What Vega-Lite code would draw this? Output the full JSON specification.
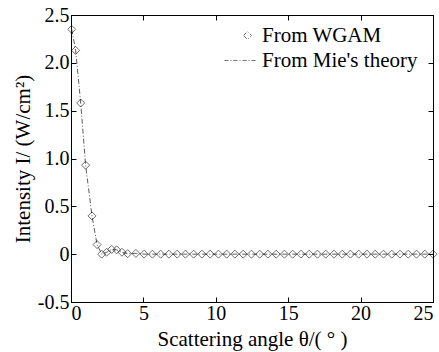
{
  "$schema": "https://vega.github.io/schema/vega-lite/v6.json",
  "width": 362,
  "height": 287,
  "autosize": {"type": "none"},
  "padding": {"left": 71, "top": 15, "right": 6, "bottom": 50},
  "background": "white",
  "config": {
    "font": "Liberation Serif",
    "view": {"stroke": "black", "strokeWidth": 1},
    "axis": {
      "labelFont": "Liberation Serif",
      "titleFont": "Liberation Serif",
      "labelFontSize": 20,
      "titleFontSize": 21,
      "titleFontWeight": "normal",
      "labelColor": "black",
      "titleColor": "black",
      "domainColor": "black",
      "tickColor": "black",
      "grid": false,
      "tickSize": -5,
      "labelPadding": 7
    }
  },
  "data": {
    "values": [
      {"theta": 0.05, "I": 2.35},
      {"theta": 0.32, "I": 2.13},
      {"theta": 0.67, "I": 1.58},
      {"theta": 1.01, "I": 0.93},
      {"theta": 1.45, "I": 0.4},
      {"theta": 1.8, "I": 0.1},
      {"theta": 2.12, "I": 0.0},
      {"theta": 2.46, "I": 0.02},
      {"theta": 2.81, "I": 0.05},
      {"theta": 3.15, "I": 0.045},
      {"theta": 3.52, "I": 0.02},
      {"theta": 3.91, "I": 0.005},
      {"theta": 4.48, "I": 0.008},
      {"theta": 5.05, "I": 0.0},
      {"theta": 5.62, "I": 0.0},
      {"theta": 6.19, "I": 0.0},
      {"theta": 6.76, "I": 0.0},
      {"theta": 7.33, "I": 0.0},
      {"theta": 7.9, "I": 0.0},
      {"theta": 8.47, "I": 0.0},
      {"theta": 9.04, "I": 0.0},
      {"theta": 9.61, "I": 0.0},
      {"theta": 10.18, "I": 0.0},
      {"theta": 10.75, "I": 0.0},
      {"theta": 11.32, "I": 0.0},
      {"theta": 11.89, "I": 0.0},
      {"theta": 12.46, "I": 0.0},
      {"theta": 13.03, "I": 0.0},
      {"theta": 13.6, "I": 0.0},
      {"theta": 14.17, "I": 0.0},
      {"theta": 14.74, "I": 0.0},
      {"theta": 15.31, "I": 0.0},
      {"theta": 15.88, "I": 0.0},
      {"theta": 16.45, "I": 0.0},
      {"theta": 17.02, "I": 0.0},
      {"theta": 17.59, "I": 0.0},
      {"theta": 18.16, "I": 0.0},
      {"theta": 18.73, "I": 0.0},
      {"theta": 19.3, "I": 0.0},
      {"theta": 19.87, "I": 0.0},
      {"theta": 20.44, "I": 0.0},
      {"theta": 21.01, "I": 0.0},
      {"theta": 21.58, "I": 0.0},
      {"theta": 22.15, "I": 0.0},
      {"theta": 22.72, "I": 0.0},
      {"theta": 23.29, "I": 0.0},
      {"theta": 23.86, "I": 0.0},
      {"theta": 24.43, "I": 0.0},
      {"theta": 25.0, "I": 0.0}
    ]
  },
  "layer": [
    {
      "mark": {"type": "line", "stroke": "#333333", "strokeWidth": 0.8, "strokeDash": [5, 2, 1, 2]},
      "encoding": {
        "x": {
          "field": "theta", "type": "quantitative",
          "scale": {"domain": [0, 25], "nice": false},
          "axis": {
            "orient": "bottom", "values": [0, 5, 10, 15, 20, 25],
            "title": "Scattering angle θ/( ° )", "titlePadding": 5, "labelPadding": 6
          }
        },
        "y": {
          "field": "I", "type": "quantitative",
          "scale": {"domain": [-0.5, 2.5], "nice": false, "zero": false},
          "axis": {
            "orient": "left",
            "values": [-0.5, 0, 0.5, 1, 1.5, 2, 2.5],
            "labelExpr": "datum.value === 0 ? '0' : (datum.value < 0 ? '-' + format(-datum.value, '.1f') : format(datum.value, '.1f'))",
            "title": "Intensity I/ (W/cm²)",
            "titlePadding": 4
          }
        }
      }
    },
    {
      "mark": {"type": "point", "filled": false, "stroke": "black", "strokeWidth": 0.8, "size": 64},
      "encoding": {
        "x": {
          "field": "theta", "type": "quantitative",
          "scale": {"domain": [0, 25], "nice": false},
          "axis": {"orient": "top", "values": [0, 5, 10, 15, 20, 25], "labels": false, "title": null}
        },
        "y": {
          "field": "I", "type": "quantitative",
          "scale": {"domain": [-0.5, 2.5], "nice": false, "zero": false},
          "axis": {"orient": "right", "values": [-0.5, 0, 0.5, 1, 1.5, 2, 2.5], "labels": false, "title": null}
        },
        "shape": {
          "datum": "From WGAM",
          "type": "nominal",
          "scale": {"domain": ["From WGAM", "From Mie's theory"], "range": ["diamond", "M-5.75,0L2.25,0"]},
          "legend": {
            "orient": "none",
            "legendX": 166,
            "legendY": 10,
            "title": null,
            "padding": 0,
            "symbolSize": 64,
            "symbolStrokeColor": "black",
            "symbolStrokeWidth": 0.8,
            "symbolFillColor": "transparent",
            "symbolDash": [4, 2, 1, 2],
            "labelFont": "Liberation Serif",
            "labelFontSize": 21,
            "labelColor": "black",
            "labelOffset": 4,
            "rowPadding": 3,
            "encode": {
              "symbols": {
                "update": {
                  "strokeDash": {"signal": "datum.value === 'From WGAM' ? [1, 0] : [4, 2, 1, 2]"},
                  "size": {"signal": "datum.value === 'From WGAM' ? 40 : 64"}
                }
              }
            }
          }
        }
      }
    }
  ],
  "resolve": {"axis": {"x": "independent", "y": "independent"}}
}
